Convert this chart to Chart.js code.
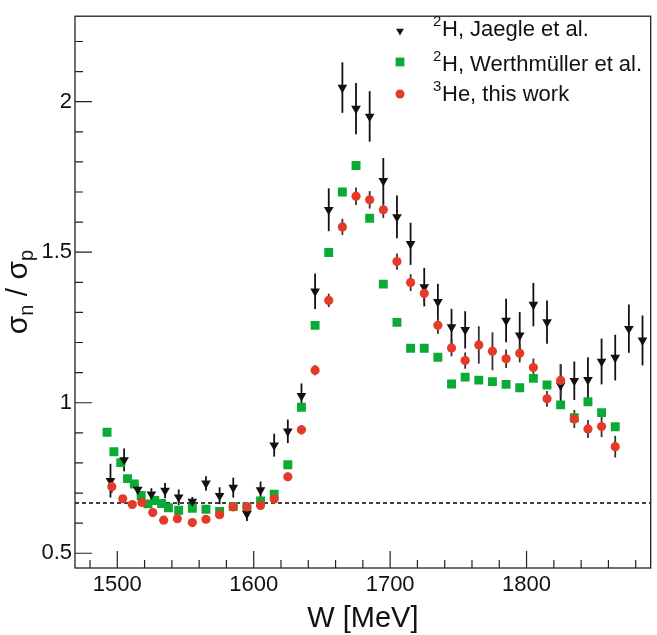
<!DOCTYPE html>
<html>
<head>
<meta charset="utf-8">
<script src="https://cdn.jsdelivr.net/npm/chart.js@4.4.1/dist/chart.umd.min.js"></script>
<style>
  html, body { margin: 0; padding: 0; background: #fff; }
  canvas { display: block; }
</style>
</head>
<body>
<canvas id="grafico" width="657" height="635"></canvas>
<script>
// 2H, Jaegle et al.  (W in MeV, ratio, error)
const wJaegle = [1495, 1505, 1515, 1525, 1535, 1545, 1555, 1565, 1575, 1585, 1595, 1605, 1615, 1625, 1635, 1645, 1655, 1665, 1675, 1685, 1695, 1705, 1715, 1725, 1735, 1745, 1755, 1785, 1795, 1805, 1815, 1825, 1835, 1845, 1855, 1865, 1875, 1885];
const rJaegle = [0.741, 0.810, 0.712, 0.696, 0.708, 0.686, 0.672, 0.732, 0.691, 0.718, 0.631, 0.710, 0.859, 0.905, 1.023, 1.370, 1.641, 2.047, 1.977, 1.951, 1.737, 1.617, 1.528, 1.384, 1.335, 1.251, 1.242, 1.273, 1.224, 1.326, 1.268, 1.058, 1.073, 1.076, 1.137, 1.150, 1.246, 1.207];
const eJaegle = [0.056, 0.038, 0.019, 0.020, 0.025, 0.026, 0.015, 0.024, 0.028, 0.033, 0.024, 0.028, 0.038, 0.039, 0.041, 0.059, 0.071, 0.084, 0.085, 0.084, 0.076, 0.071, 0.070, 0.064, 0.060, 0.061, 0.062, 0.072, 0.077, 0.072, 0.072, 0.070, 0.064, 0.075, 0.076, 0.076, 0.080, 0.083];

// 2H, Werthmueller et al.
const wWerth = [1492.5, 1497.5, 1502.5, 1507.5, 1512.5, 1517.5, 1522.5, 1527.5, 1532.5, 1537.5, 1545, 1555, 1565, 1575, 1585, 1595, 1605, 1615, 1625, 1635, 1645, 1655, 1665, 1675, 1685, 1695, 1705, 1715, 1725, 1735, 1745, 1755, 1765, 1775, 1785, 1795, 1805, 1815, 1825, 1835, 1845, 1855, 1865];
const rWerth = [0.902, 0.837, 0.801, 0.748, 0.730, 0.692, 0.664, 0.675, 0.665, 0.651, 0.643, 0.649, 0.646, 0.639, 0.655, 0.654, 0.674, 0.696, 0.794, 0.985, 1.257, 1.499, 1.700, 1.788, 1.613, 1.394, 1.267, 1.181, 1.181, 1.151, 1.062, 1.085, 1.075, 1.070, 1.061, 1.050, 1.081, 1.059, 0.993, 0.950, 1.003, 0.967, 0.920];

// 3He, this work
const wHe3 = [1496, 1504, 1511, 1518, 1526, 1534, 1544, 1555, 1565, 1575, 1585, 1595, 1605, 1615, 1625, 1635, 1645, 1655, 1665, 1675, 1685, 1695, 1705, 1715, 1725, 1735, 1745, 1755, 1765, 1775, 1785, 1795, 1805, 1815, 1825, 1835, 1845, 1855, 1865];
const rHe3 = [0.721, 0.681, 0.662, 0.669, 0.635, 0.610, 0.615, 0.602, 0.613, 0.628, 0.654, 0.654, 0.659, 0.680, 0.754, 0.910, 1.108, 1.340, 1.584, 1.686, 1.674, 1.641, 1.469, 1.399, 1.363, 1.257, 1.182, 1.140, 1.192, 1.171, 1.146, 1.164, 1.117, 1.013, 1.074, 0.946, 0.913, 0.921, 0.854];
const eHe3 = [0.020, 0.012, 0.010, 0.010, 0.010, 0.010, 0.010, 0.010, 0.010, 0.010, 0.012, 0.012, 0.012, 0.012, 0.014, 0.015, 0.017, 0.022, 0.027, 0.029, 0.029, 0.027, 0.027, 0.028, 0.030, 0.028, 0.028, 0.027, 0.062, 0.063, 0.031, 0.030, 0.030, 0.026, 0.053, 0.030, 0.030, 0.035, 0.036];

const xTicks = [1500, 1600, 1700, 1800];
const yTicks = [0.5, 1, 1.5, 2];
const isospinLimit = 2 / 3;

const FONT = '"Liberation Sans", Arial, Helvetica, sans-serif';
const GREEN = '#0aab35';
const RED = '#e63a28';
const BLACK = '#111111';

function pts(ws, rs) {
    return ws.map((w, i) => ({ x: w, y: rs[i] }));
}

const decor = {
    id: 'decor',
    beforeDatasetsDraw(chart) {
        const ctx = chart.ctx;
        const xs = chart.scales.x, ys = chart.scales.y;
        const a = chart.chartArea;

        // dashed line at 2/3
        ctx.save();
        ctx.strokeStyle = '#000';
        ctx.lineWidth = 1.5;
        ctx.setLineDash([4, 3]);
        const yl = ys.getPixelForValue(isospinLimit);
        ctx.beginPath();
        ctx.moveTo(a.left, yl);
        ctx.lineTo(a.right, yl);
        ctx.stroke();
        ctx.restore();

        // error bars
        const bars = [[wJaegle, rJaegle, eJaegle, '#111'], [wHe3, rHe3, eHe3, '#333']];
        ctx.save();
        ctx.lineWidth = 1.8;
        bars.forEach(([ws, rs, es, col]) => {
            ctx.strokeStyle = col;
            ws.forEach((w, i) => {
                const px = xs.getPixelForValue(w);
                ctx.beginPath();
                ctx.moveTo(px, ys.getPixelForValue(rs[i] - es[i]));
                ctx.lineTo(px, ys.getPixelForValue(rs[i] + es[i]));
                ctx.stroke();
            });
        });
        ctx.restore();
    },
    afterDraw(chart) {
        const ctx = chart.ctx;
        const xs = chart.scales.x, ys = chart.scales.y;
        const a = chart.chartArea;
        ctx.save();

        // frame
        ctx.strokeStyle = '#222';
        ctx.lineWidth = 1.3;
        ctx.strokeRect(a.left, a.top, a.right - a.left, a.bottom - a.top);

        // ticks pointing inward
        ctx.lineWidth = 1.2;
        ctx.beginPath();
        for (let v = 1480; v <= 1880; v += 20) {
            const px = xs.getPixelForValue(v);
            const len = v % 100 === 0 ? 17 : 8;
            ctx.moveTo(px, a.bottom);
            ctx.lineTo(px, a.bottom - len);
        }
        for (let k = 5; k <= 22; k++) {
            const py = ys.getPixelForValue(k / 10);
            const len = k % 5 === 0 ? 17 : 8;
            ctx.moveTo(a.left, py);
            ctx.lineTo(a.left + len, py);
        }
        ctx.stroke();

        // x title
        ctx.fillStyle = '#111';
        ctx.font = '29px ' + FONT;
        ctx.textAlign = 'center';
        ctx.textBaseline = 'alphabetic';
        ctx.fillText('W [MeV]', (a.left + a.right) / 2, 627);

        // y title with subscripts, rotated
        const parts = [['σ', 30, 0], ['n', 20, 6], [' / ', 30, 0], ['σ', 30, 0], ['p', 20, 6]];
        let total = 0;
        parts.forEach(p => { ctx.font = p[1] + 'px ' + FONT; total += ctx.measureText(p[0]).width; });
        ctx.translate(27, (a.top + a.bottom) / 2);
        ctx.rotate(-Math.PI / 2);
        ctx.textAlign = 'left';
        let tx = -total / 2;
        parts.forEach(p => {
            ctx.font = p[1] + 'px ' + FONT;
            ctx.fillText(p[0], tx, p[2]);
            tx += ctx.measureText(p[0]).width;
        });
        ctx.setTransform(1, 0, 0, 1, 0, 0);

        // legend
        const rows = [
            { sup: '2', txt: 'H, Jaegle et al.', style: 'triangle', rot: 180, r: 4.5, col: BLACK, base: 36, my: 31 },
            { sup: '2', txt: 'H, Werthmüller et al.', style: 'rect', rot: 0, r: 6.2, col: GREEN, base: 71, my: 62 },
            { sup: '3', txt: 'He, this work', style: 'circle', rot: 0, r: 4.5, col: RED, base: 101, my: 94 }
        ];
        rows.forEach(row => {
            ctx.fillStyle = row.col;
            Chart.helpers.drawPoint(ctx, { pointStyle: row.style, rotation: row.rot, radius: row.r, borderWidth: 0 }, 400, row.my);
            ctx.fillStyle = '#111';
            ctx.textAlign = 'left';
            ctx.font = '15px ' + FONT;
            ctx.fillText(row.sup, 433, row.base - 10);
            ctx.font = '22px ' + FONT;
            ctx.fillText(row.txt, 442, row.base);
        });
        ctx.restore();
    }
};

Chart.defaults.font.family = FONT;
Chart.defaults.color = '#111';

const ctx = document.getElementById('grafico').getContext('2d');
new Chart(ctx, {
    type: 'scatter',
    data: {
        datasets: [
            {
                label: '3He, this work',
                data: pts(wHe3, rHe3),
                pointStyle: 'circle',
                pointRadius: 4.6,
                backgroundColor: RED,
                borderWidth: 0,
                order: 0
            },
            {
                label: '2H, Jaegle et al.',
                data: pts(wJaegle, rJaegle),
                pointStyle: 'triangle',
                rotation: 180,
                pointRadius: 5.6,
                backgroundColor: BLACK,
                borderWidth: 0,
                order: 1
            },
            {
                label: '2H, Werthmüller et al.',
                data: pts(wWerth, rWerth),
                pointStyle: 'rect',
                pointRadius: 6.3,
                backgroundColor: GREEN,
                borderWidth: 0,
                order: 2
            }
        ]
    },
    options: {
        responsive: false,
        animation: false,
        devicePixelRatio: 1,
        layout: { padding: { top: 7, right: 1, left: 0, bottom: 0 } },
        plugins: { legend: { display: false }, tooltip: { enabled: false } },
        scales: {
            x: {
                type: 'linear',
                min: 1469,
                max: 1891,
                grid: { display: false, drawTicks: false },
                border: { display: false },
                ticks: { font: { size: 22 }, padding: 4, maxRotation: 0, callback: v => String(v) },
                afterBuildTicks: s => { s.ticks = xTicks.map(v => ({ value: v })); },
                afterFit: s => { s.height = 67; }
            },
            y: {
                type: 'linear',
                min: 0.451,
                max: 2.284,
                grid: { display: false, drawTicks: false },
                border: { display: false },
                ticks: { font: { size: 22 }, padding: 3, callback: v => String(v) },
                afterBuildTicks: s => { s.ticks = yTicks.map(v => ({ value: v })); },
                afterFit: s => { s.width = 75; }
            }
        }
    },
    plugins: [decor]
});
</script>
</body>
</html>
